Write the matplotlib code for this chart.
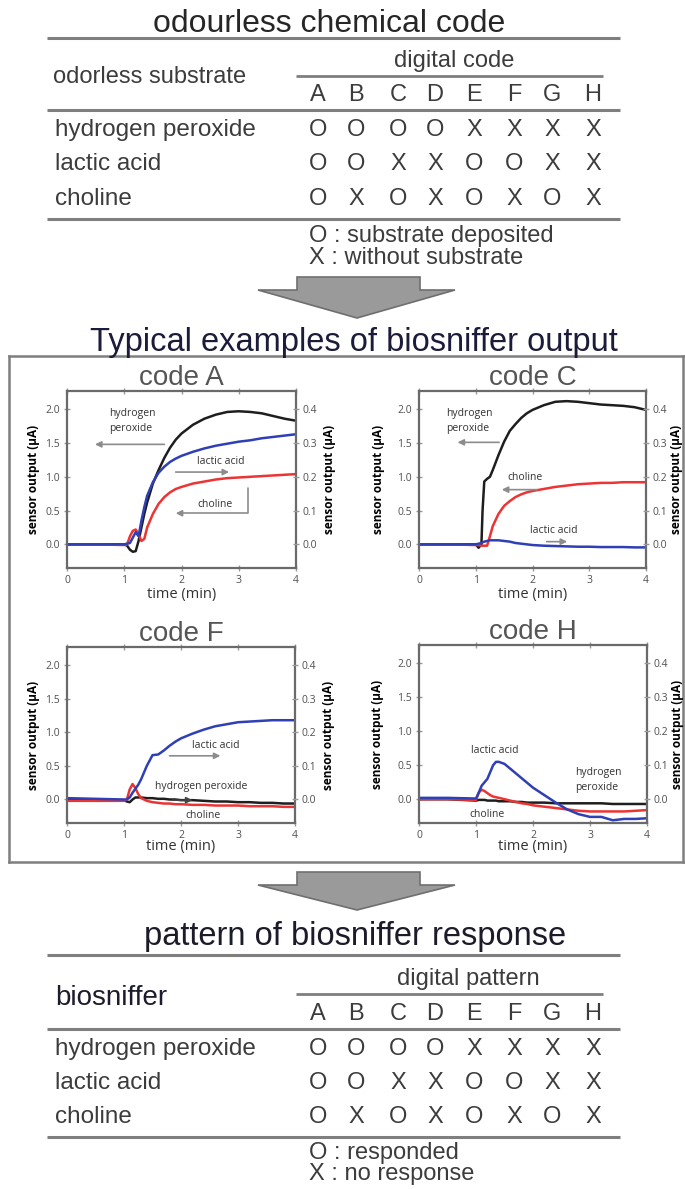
import matplotlib
matplotlib.use("Agg")
import matplotlib.pyplot as plt
from matplotlib.patches import Polygon

# ---------------- data ----------------
substrates = ["hydrogen peroxide", "lactic acid", "choline"]
codes = ["A", "B", "C", "D", "E", "F", "G", "H"]
code_rows = ["OOOOXXXX", "OOXXOOXX", "OXOXOXOX"]
response_rows = ["OOOOXXXX", "OOXXOOXX", "OXOXOXOX"]

# code A
t_a = [0, 0.5, 1.0, 1.05, 1.1, 1.15, 1.2, 1.25, 1.3, 1.35, 1.4, 1.5, 1.6, 1.7,
       1.8, 1.9, 2.0, 2.2, 2.4, 2.6, 2.8, 3.0, 3.2, 3.4, 3.6, 3.8, 4.0]
h2o2_a = [0, 0, 0, -0.02, -0.08, -0.11, -0.10, 0.05, 0.25, 0.45, 0.62, 0.90, 1.10, 1.28,
          1.43, 1.55, 1.64, 1.77, 1.86, 1.92, 1.96, 1.97, 1.96, 1.94, 1.90, 1.86, 1.83]
lact_a = [0, 0, 0, 0.01, 0.02, 0.10, 0.18, 0.12, 0.35, 0.55, 0.72, 0.92, 1.06, 1.15,
          1.22, 1.27, 1.31, 1.37, 1.42, 1.46, 1.49, 1.52, 1.54, 1.57, 1.59, 1.61, 1.63]
chol_a = [0, 0, -0.01, 0.0, 0.12, 0.20, 0.22, 0.15, 0.05, 0.08, 0.25, 0.45, 0.60, 0.70,
          0.77, 0.82, 0.85, 0.90, 0.93, 0.96, 0.98, 0.99, 1.00, 1.01, 1.02, 1.03, 1.04]

# code C
t_c = [0, 0.5, 1.0, 1.05, 1.1, 1.12, 1.15, 1.2, 1.25, 1.3, 1.4, 1.5, 1.6, 1.7,
       1.8, 1.9, 2.0, 2.2, 2.4, 2.6, 2.8, 3.0, 3.2, 3.4, 3.6, 3.8, 4.0]
h2o2_c = [0, 0, 0, -0.05, 0.0, 0.50, 0.93, 0.97, 1.00, 1.10, 1.32, 1.52, 1.68, 1.78,
          1.87, 1.94, 1.99, 2.06, 2.11, 2.12, 2.11, 2.09, 2.07, 2.06, 2.05, 2.03, 1.99]
lact_c = [0, 0, 0, 0.01, 0.02, 0.03, 0.04, 0.05, 0.06, 0.06, 0.06, 0.05, 0.04, 0.02,
          0.01, 0.0, -0.01, -0.02, -0.025, -0.03, -0.035, -0.035, -0.04, -0.04, -0.04, -0.045, -0.045]
chol_c = [0, 0, -0.01, -0.01, -0.02, -0.02, -0.02, -0.02, 0.12, 0.27, 0.45, 0.57, 0.64, 0.70,
          0.74, 0.77, 0.79, 0.82, 0.85, 0.87, 0.89, 0.90, 0.91, 0.91, 0.92, 0.92, 0.92]

# code F
t_f = [0, 0.5, 1.0, 1.05, 1.1, 1.15, 1.2, 1.25, 1.3, 1.4, 1.5, 1.6, 1.7, 1.8,
       1.9, 2.0, 2.2, 2.4, 2.6, 2.8, 3.0, 3.2, 3.4, 3.6, 3.8, 4.0]
h2o2_f = [-0.01, -0.01, -0.01, -0.03, -0.04, 0.0, 0.03, 0.03, 0.03, 0.02, 0.02, 0.01, 0.01, 0.0,
          0.0, -0.01, -0.01, -0.02, -0.03, -0.03, -0.04, -0.04, -0.05, -0.05, -0.06, -0.06]
lact_f = [0.02, 0.01, 0.0, 0.0, 0.03, 0.10, 0.16, 0.22, 0.30, 0.50, 0.66, 0.67, 0.73, 0.80,
          0.86, 0.91, 0.98, 1.04, 1.09, 1.12, 1.15, 1.16, 1.17, 1.18, 1.18, 1.18]
chol_f = [-0.02, -0.02, -0.02, 0.0, 0.15, 0.23, 0.17, 0.08, 0.02, -0.02, -0.04, -0.05, -0.06, -0.06,
          -0.07, -0.07, -0.08, -0.08, -0.09, -0.09, -0.09, -0.10, -0.10, -0.10, -0.11, -0.11]

# code H
t_h = [0, 0.5, 1.0, 1.05, 1.1, 1.15, 1.2, 1.25, 1.3, 1.35, 1.4, 1.5, 1.6, 1.7,
       1.8, 1.9, 2.0, 2.2, 2.4, 2.6, 2.8, 3.0, 3.2, 3.4, 3.6, 3.8, 4.0]
h2o2_h = [0, 0, -0.02, -0.01, -0.01, -0.01, -0.02, -0.02, -0.02, -0.02, -0.03, -0.03, -0.03, -0.04,
          -0.04, -0.05, -0.05, -0.05, -0.06, -0.06, -0.06, -0.06, -0.06, -0.07, -0.07, -0.07, -0.07]
lact_h = [0.02, 0.02, 0.01, 0.10, 0.20, 0.25, 0.30, 0.40, 0.50, 0.55, 0.55, 0.52, 0.45, 0.38,
          0.31, 0.24, 0.17, 0.06, -0.05, -0.15, -0.22, -0.26, -0.26, -0.31, -0.29, -0.29, -0.28]
chol_h = [0, 0, -0.01, 0.10, 0.14, 0.12, 0.09, 0.06, 0.04, 0.03, 0.02, 0.0, -0.02, -0.04,
          -0.06, -0.07, -0.09, -0.11, -0.13, -0.15, -0.17, -0.18, -0.18, -0.18, -0.18, -0.17, -0.16]

# ---------------- layout ----------------
W, H = 685, 1189
fig = plt.figure(figsize=(W / 100, H / 100), dpi=100)

bg = fig.add_axes([0, 0, 1, 1])
bg.set_xlim(0, W)
bg.set_ylim(H, 0)
bg.axis("off")

TFONT = "Liberation Sans"
PFONT = ["Open Sans", "DejaVu Sans"]
RULE = "#7f7f7f"
TXT = "#3c3c3c"
col_x = [318, 356, 398, 435, 474, 514, 552, 593]


def rule(x0, x1, y, lw=2.2):
    bg.plot([x0, x1], [y, y], color=RULE, lw=lw, solid_capstyle="butt")


def table(y_head, head_text, y_letters, row_y, rows, legend, legend_y, left_label, big_label=False):
    bg.text(454 if not big_label else 468, y_head, head_text, ha="center", va="center",
            fontsize=17, family=TFONT, color=TXT)
    rule(296, 603, y_head + 15, lw=2.0)
    if big_label:
        bg.text(55, y_head + 19, left_label, ha="left", va="center", fontsize=20,
                family=TFONT, color="#1c1c2c")
    else:
        bg.text(53, y_head + 16, left_label, ha="left", va="center", fontsize=17,
                family=TFONT, color=TXT)
    for x, c in zip(col_x, codes):
        bg.text(x, y_letters, c, ha="center", va="center", fontsize=17, family=TFONT, color=TXT)
    rule(47, 620, y_letters + 15)
    for y, name, pat in zip(row_y, substrates, rows):
        bg.text(55, y, name, ha="left", va="center", fontsize=17.5, family=TFONT, color=TXT)
        for x, ch in zip(col_x, pat):
            bg.text(x, y, ch, ha="center", va="center", fontsize=17, family=TFONT, color=TXT)
    rule(47, 620, row_y[-1] + 20)
    for y, s in zip(legend_y, legend):
        bg.text(309, y, s, ha="left", va="center", fontsize=17, family=TFONT, color=TXT)


def block_arrow(top, tip):
    pts = [(297, top), (420, top), (420, top + 13), (455, top + 13), (357, tip),
           (258, top + 13), (297, top + 13)]
    bg.add_patch(Polygon(pts, closed=True, facecolor="#9a9a9a", edgecolor="#6f6f6f", lw=1.2))


# top table
bg.text(329, 32, "odourless chemical code", ha="center", va="baseline",
        fontsize=23, family=TFONT, color="#262626")
rule(47, 620, 38)
table(61, "digital code", 95, [130, 164, 199], code_rows,
      ["O : substrate deposited", "X : without substrate"], [236, 258], "odorless substrate")

block_arrow(277, 318)

# middle panel frame and title
bg.text(354, 351, "Typical examples of biosniffer output", ha="center", va="baseline",
        fontsize=23.5, family=TFONT, color="#1b1b3a")
bg.plot([9, 685], [356, 356], color=RULE, lw=1.8)
bg.plot([9, 9], [356, 862], color=RULE, lw=1.8)
bg.plot([9, 685], [862, 862], color=RULE, lw=1.8)
bg.plot([683, 683], [356, 862], color=RULE, lw=1.8)

block_arrow(872, 910)

# bottom table
bg.text(355, 945, "pattern of biosniffer response", ha="center", va="baseline",
        fontsize=23.5, family=TFONT, color="#1b1b2a")
rule(47, 620, 955)
table(979, "digital pattern", 1014, [1049, 1083, 1117], response_rows,
      ["O : responded", "X : no response"], [1153, 1174], "biosniffer", big_label=True)


# ---------------- plots ----------------
def px_rect(l, t, r, b):
    return [l / W, 1 - b / H, (r - l) / W, (b - t) / H]


YL = (-0.35, 2.27)
BLK, BLU, RED = "#1e1e1e", "#2f3fb5", "#ec3434"
ARW = dict(arrowstyle="-|>", color="#8c8c8c", lw=1.2, mutation_scale=9)


def panel(rect, title, t, h2o2, lact, chol, ylab_l, ylab_r, xlab_pad):
    ax = fig.add_axes(px_rect(*rect))
    ax.plot(t, h2o2, color=BLK, lw=1.8)
    ax.plot(t, chol, color=RED, lw=1.8)
    ax.plot(t, lact, color=BLU, lw=1.8)
    ax.set_xlim(0, 4)
    ax.set_ylim(*YL)
    ax.set_xticks([0, 1, 2, 3, 4])
    ax.set_yticks([0, 0.5, 1.0, 1.5, 2.0])
    ax.set_yticklabels(["0.0", "0.5", "1.0", "1.5", "2.0"])
    ax.tick_params(direction="inout", length=4, width=1, color="#9a9a9a", labelcolor="#505050",
                   labelsize=7.5, pad=3, top=True)
    for lab in ax.get_xticklabels() + ax.get_yticklabels():
        lab.set_family(PFONT)
    for sp in ax.spines.values():
        sp.set_color("#6a6a6a")
        sp.set_linewidth(1.6)
    ax.set_title(title, fontsize=20, family=TFONT, color="#555555", pad=3)
    ax.set_xlabel("time (min)", fontsize=10.5, family=PFONT, color="#333333", labelpad=xlab_pad)
    ax.set_ylabel("sensor output (\u03bcA)", fontsize=8.5, family=PFONT, fontweight="bold")
    ax.yaxis.set_label_coords(ylab_l, 0.5)
    ax.yaxis.label.set_va("center")

    ax2 = ax.twinx()
    ax2.set_ylim(YL[0] / 5, YL[1] / 5)
    ax2.set_yticks([0, 0.1, 0.2, 0.3, 0.4])
    ax2.set_yticklabels(["0.0", "0.1", "0.2", "0.3", "0.4"])
    ax2.tick_params(direction="inout", length=4, width=1, color="#9a9a9a", labelcolor="#505050",
                    labelsize=7.5, pad=3)
    for lab in ax2.get_yticklabels():
        lab.set_family(PFONT)
    for sp in ax2.spines.values():
        sp.set_visible(False)
    ax2.set_ylabel("sensor output (\u03bcA)", fontsize=8.5, family=PFONT, fontweight="bold")
    ax2.yaxis.set_label_coords(ylab_r, 0.5)
    ax2.yaxis.label.set_va("center")
    return ax


NOTE = dict(fontsize=7.5, family=PFONT, color="#333333", linespacing=1.5)

ax = panel((67, 391, 296, 568), "code A", t_a, h2o2_a, lact_a, chol_a, -0.148, 1.145, 1)
ax.text(0.73, 1.82, "hydrogen\nperoxide", ha="left", va="center", **NOTE)
ax.annotate("", xy=(0.44, 1.48), xytext=(1.75, 1.48), arrowprops=ARW)
ax.text(2.27, 1.23, "lactic acid", ha="left", va="center", **NOTE)
ax.annotate("", xy=(2.88, 1.07), xytext=(1.85, 1.07), arrowprops=ARW)
ax.text(2.27, 0.59, "choline", ha="left", va="center", **NOTE)
ax.annotate("", xy=(1.85, 0.46), xytext=(3.16, 0.87),
            arrowprops=dict(ARW, connectionstyle="angle,angleA=90,angleB=0,rad=0"))

ax = panel((419, 391, 646, 568), "code C", t_c, h2o2_c, lact_c, chol_c, -0.18, 1.135, 1)
ax.text(0.48, 1.82, "hydrogen\nperoxide", ha="left", va="center", **NOTE)
ax.annotate("", xy=(0.63, 1.51), xytext=(1.46, 1.51), arrowprops=ARW)
ax.text(1.55, 0.99, "choline", ha="left", va="center", **NOTE)
ax.annotate("", xy=(1.41, 0.81), xytext=(2.13, 0.81), arrowprops=ARW)
ax.text(1.96, 0.21, "lactic acid", ha="left", va="center", **NOTE)
ax.annotate("", xy=(2.66, 0.04), xytext=(2.2, 0.04), arrowprops=ARW)

ax = panel((67, 647, 295, 823), "code F", t_f, h2o2_f, lact_f, chol_f, -0.148, 1.145, -1.5)
ax.text(2.19, 0.81, "lactic acid", ha="left", va="center", **NOTE)
ax.annotate("", xy=(2.74, 0.65), xytext=(1.75, 0.65), arrowprops=ARW)
ax.text(1.54, 0.19, "hydrogen peroxide", ha="left", va="center", **NOTE)
ax.annotate("", xy=(2.25, -0.01), xytext=(1.8, -0.01), arrowprops=dict(ARW, color="#444444"))
ax.text(2.07, -0.24, "choline", ha="left", va="center", **NOTE)

ax = panel((419, 645, 647, 823), "code H", t_h, h2o2_h, lact_h, chol_h, -0.18, 1.135, -1.5)
ax.text(0.91, 0.72, "lactic acid", ha="left", va="center", **NOTE)
ax.text(2.74, 0.29, "hydrogen\nperoxide", ha="left", va="center", **NOTE)
ax.text(0.88, -0.22, "choline", ha="left", va="center", **NOTE)

fig.savefig("out.png", dpi=100)
